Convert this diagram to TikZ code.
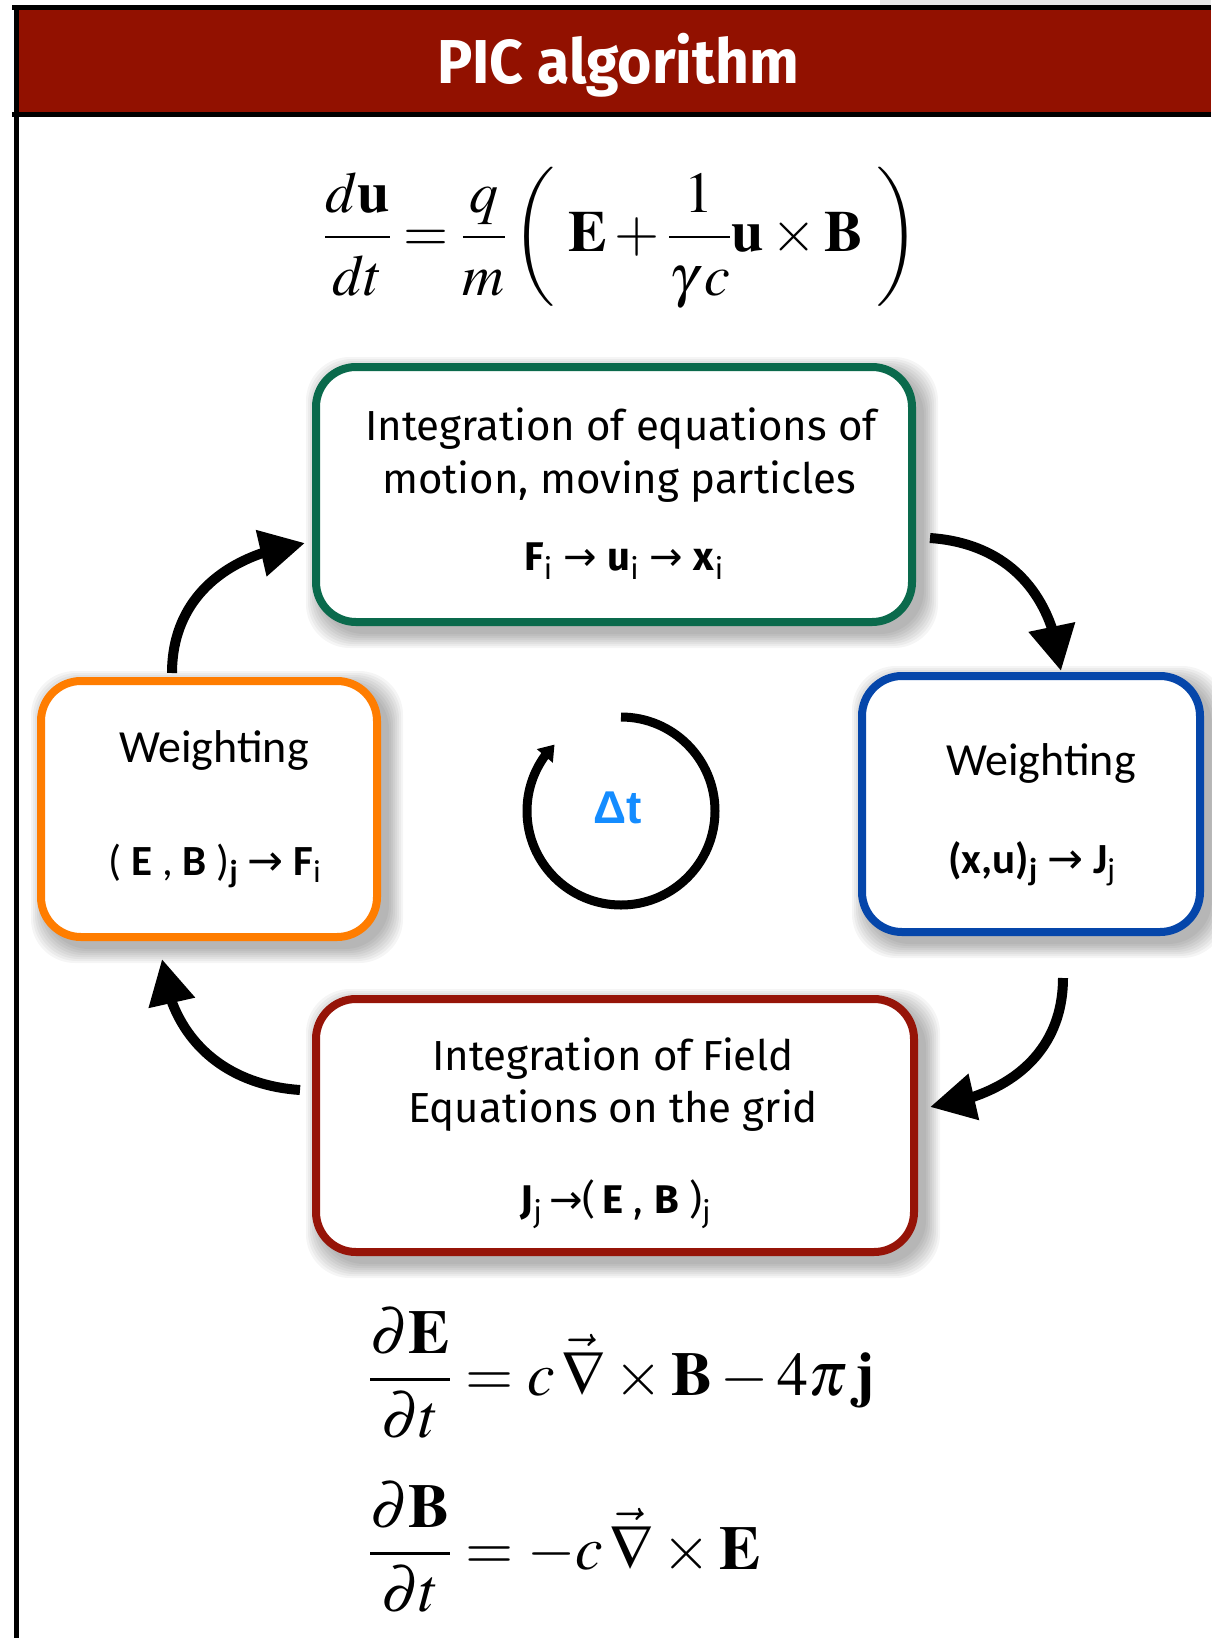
\documentclass[tikz,border=0pt]{standalone}
\usepackage{mathptmx}
\usepackage[no-math]{fontspec}
\usetikzlibrary{arrows.meta,bending,calc}
\newfontfamily\titlefont[FakeStretch=0.95]{Fira Sans}
\newfontfamily\boxfont{Fira Sans}
\newfontfamily\calfont{Carlito}
\newfontfamily\dtfont{Liberation Sans}
\newfontfamily\arrowfont{DejaVu Sans}
\newcommand\myarr{{\arrowfont →}}
\newcommand\numgap{\rule[-0.14em]{0pt}{0pt}}
\newcommand\dengap{\rule{0pt}{0.86em}}
\definecolor{titlered}{RGB}{146,17,0}
\definecolor{boxgreen}{RGB}{10,106,76}
\definecolor{boxorange}{RGB}{255,125,0}
\definecolor{boxblue}{RGB}{5,70,170}
\definecolor{boxred}{RGB}{150,20,8}
\definecolor{dtblue}{RGB}{20,140,255}
\pgfdeclarelayer{bg}
\pgfsetlayers{bg,main}
\tikzset{
  stagebox/.style={rectangle, rounded corners=40pt, line width=8pt, fill=white, inner sep=0pt},
  txt/.style={font=\boxfont\fontsize{42}{50}\selectfont, inner sep=0pt, anchor=base},
  gform/.style={font=\boxfont\fontsize{40}{44}\selectfont, inner sep=0pt, anchor=base},
  wtxt/.style={font=\calfont\fontsize{46}{50}\selectfont, inner sep=0pt, anchor=base},
  wform/.style={font=\calfont\fontsize{43}{46}\selectfont, inner sep=0pt, anchor=base},
  bigarrow/.style={line width=10pt, -{Triangle[length=45pt,width=45pt,flex]}},
  eqn/.style={inner sep=0pt, anchor=west}
}
\newcommand\boxshadow[1]{%
  \foreach \k in {0,2,...,14}{%
    \fill[black,opacity=0.04,rounded corners=44pt]
      ($(#1.north west)+(8-\k,8-\k)$) rectangle ($(#1.south east)+(8+\k,8+\k)$);}}
\begin{document}
\begin{tikzpicture}[x=1pt,y=-1pt]
\useasboundingbox (0,0) rectangle (1211,1638);
\begin{pgfonlayer}{bg}
\fill[white] (0,0) rectangle (1211,1638);
\fill[gray!18] (880,0) rectangle (1211,6);
\end{pgfonlayer}
% frame and title bar
\fill[black] (12,5) rectangle (1211,10);
\fill[titlered] (19,10) rectangle (1211,112);
\fill[black] (12,112) rectangle (1211,117);
\fill[black] (14,5) rectangle (19,1638);
\node[anchor=base, text=white, inner sep=0pt, font=\titlefont\bfseries\fontsize{62}{70}\selectfont] (title) at (618,83) {PIC algorithm};

% equation of motion
\node[eqn, font=\fontsize{58}{66}\selectfont] (eqmotion) at (324,238) {$\displaystyle \frac{d\mathbf{u}\numgap}{dt\dengap}=\frac{q\numgap}{m\dengap}\left(\;\mathbf{E}+\frac{1\numgap}{\gamma\, c\dengap}\mathbf{u}\times\mathbf{B}\;\right)$};

% boxes
\node[stagebox, draw=boxgreen, minimum width=596pt, minimum height=255pt] (green) at (614,494.5) {};
\node[stagebox, draw=boxred, minimum width=598pt, minimum height=253pt] (red) at (615,1125.5) {};
\node[stagebox, draw=boxorange, minimum width=336pt, minimum height=256pt] (orange) at (209,809) {};
\node[stagebox, draw=boxblue, minimum width=338pt, minimum height=256pt] (blue) at (1031,804) {};
\begin{pgfonlayer}{bg}
\boxshadow{green}
\boxshadow{red}
\boxshadow{orange}
\boxshadow{blue}
\end{pgfonlayer}

% box texts
\node[txt] (g1) at (621,440) {Integration of equations of};
\node[txt] (g2) at (619,493) {motion, moving particles};
\node[gform] (g3) at (624,570) {\textbf{F}\textsubscript{i} \myarr{} \textbf{u}\textsubscript{i} \myarr{} \textbf{x}\textsubscript{i}};

\node[txt] (r1) at (613,1070) {Integration of Field};
\node[txt] (r2) at (613,1122) {Equations on the grid};
\node[gform] (r3) at (616,1213) {\textbf{J}\textsubscript{j}\,\myarr(\,\textbf{E} , \textbf{B} )\textsubscript{j}};

\node[wtxt] (o1) at (214,762) {Weighting};
\node[wform] (o2) at (215,875) {( \textbf{E} , \textbf{B} )\textsubscript{\textbf{j}} \myarr{} \textbf{F}\textsubscript{i}};

\node[wtxt] (b1) at (1041,775) {Weighting};
\node[wform] (b2) at (1032,873) {\textbf{(x,u)\textsubscript{j}} \myarr{} \textbf{J}\textsubscript{j}};

% time step cycle
\coordinate (cyc) at (621,811);
\node[anchor=base, inner sep=0pt, text=dtblue, font=\dtfont\bfseries\fontsize{46}{50}\selectfont] (dt) at (618,823) {Δt};
\draw[line width=9pt, -{Triangle[length=15pt,width=20pt,flex]}] ($(cyc)+(0,-94)$) arc[start angle=-90, end angle=225, radius=94];

% cycle arrows
\coordinate (a1s) at (172,673); \coordinate (a1e) at (305,543);
\coordinate (a2s) at (930,538); \coordinate (a2e) at (1061,671);
\coordinate (a3s) at (1063,978); \coordinate (a3e) at (930,1107);
\coordinate (a4s) at (300,1090); \coordinate (a4e) at (162,959);
\draw[bigarrow] (a1s) .. controls +(0,-70) and +(-85,12) .. (a1e);
\draw[bigarrow] (a2s) .. controls +(75,5) and +(-8,-80) .. (a2e);
\draw[bigarrow] (a3s) .. controls +(0,70) and +(85,-12) .. (a3e);
\draw[bigarrow] (a4s) .. controls +(-75,-5) and +(8,80) .. (a4e);

% field equations
\node[eqn, font=\fontsize{62}{70}\selectfont] (eqE) at (369,1373) {$\displaystyle \frac{\partial\mathbf{E}}{\partial t}=c\,\vec{\nabla}\times\mathbf{B}-4\pi\,\mathbf{j}$};
\node[eqn, font=\fontsize{62}{70}\selectfont] (eqB) at (369,1547) {$\displaystyle \frac{\partial\mathbf{B}}{\partial t}=-c\,\vec{\nabla}\times\mathbf{E}$};
\end{tikzpicture}
\end{document}
